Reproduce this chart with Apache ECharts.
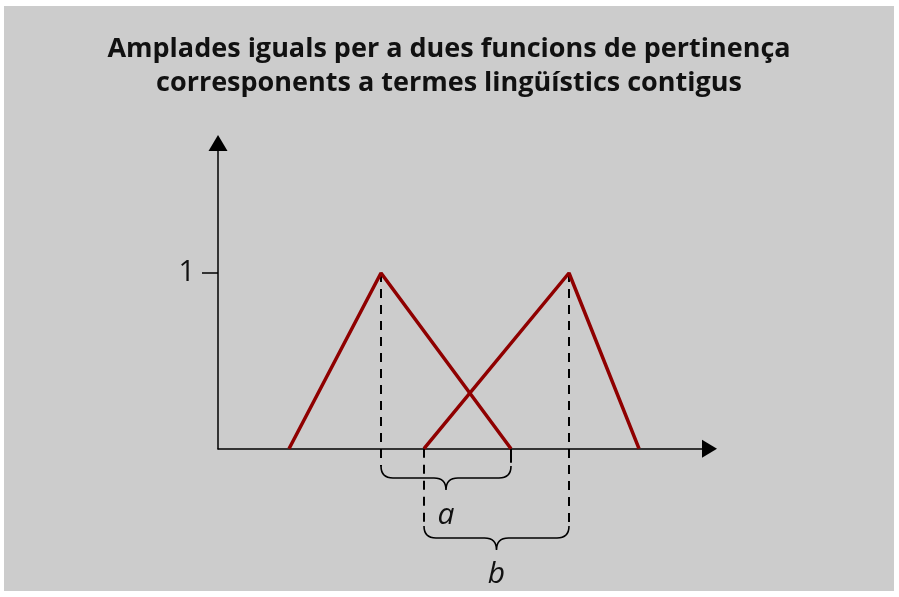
<!DOCTYPE html>
<html>
<head>
<meta charset="utf-8">
<script src="https://cdn.jsdelivr.net/npm/echarts@6/dist/echarts.min.js"></script>
<style>
  html, body { margin: 0; padding: 0; background: #ffffff; }
  #chart { position: absolute; left: 4px; top: 6px; width: 890px; height: 585px; }
</style>
</head>
<body>
<div id="chart"></div>
<script>
// x in units along the axis, y is the membership degree
const triangleA = [[71, 0], [163, 1], [293, 0]];
const triangleB = [[206, 0], [351, 1], [421, 0]];

// guide lines dropped below the axis
const guideX = [163, 206, 351, 293];
const guideTop = [1, 0, 1, 0];
const guideBottom = [-0.1, -0.44, -0.44, -0.08];
const guideDashed = [true, true, true, false];

// braces under the axis
const braceStart = [163, 206];
const braceEnd = [293, 351];
const braceLevel = [-0.167, -0.508];
const braceNames = ['a', 'b'];

const yTicks = [1];

const chart = echarts.init(document.getElementById('chart'));

const guideSeries = guideX.map((x, i) => ({
  type: 'line',
  data: [[x, guideTop[i]], [x, guideBottom[i]]],
  symbol: 'none',
  clip: false,
  silent: true,
  lineStyle: { color: '#000', width: 2, type: guideDashed[i] ? [9, 7] : 'solid' },
  z: 2
}));

chart.setOption({
  backgroundColor: '#cccccc',
  animation: false,
  title: {
    text: 'Amplades iguals per a dues funcions de pertinença\ncorresponents a termes lingüístics contigus',
    left: 'center',
    top: 21,
    textStyle: {
      fontFamily: 'Open Sans',
      fontWeight: 'bold',
      fontSize: 27,
      lineHeight: 34.5,
      color: '#111'
    }
  },
  grid: { left: 214, top: 137, right: 184.5, bottom: 142.3 },
  xAxis: {
    type: 'value',
    min: 0,
    max: 491.5,
    splitLine: { show: false },
    axisTick: { show: false },
    axisLabel: { show: false },
    axisLine: {
      lineStyle: { color: '#000', width: 1.5 },
      symbol: ['none', 'triangle'],
      symbolSize: [18, 15]
    }
  },
  yAxis: {
    type: 'value',
    min: 0,
    max: 1.74,
    splitLine: { show: false },
    axisTick: { show: true, length: 16, customValues: yTicks, lineStyle: { color: '#000', width: 1.5 } },
    axisLabel: {
      customValues: yTicks,
      margin: 23,
      fontFamily: 'Open Sans',
      fontSize: 29,
      color: '#111'
    },
    axisLine: {
      lineStyle: { color: '#000', width: 1.5 },
      symbol: ['none', 'triangle'],
      symbolSize: [19, 16]
    }
  },
  series: [
    ...guideSeries,
    {
      type: 'custom',
      clip: false,
      silent: true,
      data: braceStart.map((s, i) => [s, braceEnd[i], braceLevel[i], braceNames[i]]),
      renderItem: function (params, api) {
        const p1 = api.coord([api.value(0), api.value(2)]);
        const p2 = api.coord([api.value(1), api.value(2)]);
        const y = p1[1];
        const x1 = p1[0], x2 = p2[0], mid = (x1 + x2) / 2;
        const r = 12;
        const d = 'M' + x1 + ' ' + (y - r) +
          ' Q' + x1 + ' ' + y + ' ' + (x1 + r) + ' ' + y +
          ' L' + (mid - r) + ' ' + y +
          ' Q' + mid + ' ' + y + ' ' + mid + ' ' + (y + r) +
          ' Q' + mid + ' ' + y + ' ' + (mid + r) + ' ' + y +
          ' L' + (x2 - r) + ' ' + y +
          ' Q' + x2 + ' ' + y + ' ' + x2 + ' ' + (y - r);
        return {
          type: 'group',
          children: [
            {
              type: 'path',
              shape: { pathData: d },
              style: { fill: 'none', stroke: '#000', lineWidth: 1.6 }
            },
            {
              type: 'text',
              x: mid,
              y: y + r + 25,
              style: {
                text: braceNames[params.dataIndex],
                fontFamily: 'Open Sans',
                fontStyle: 'italic',
                fontSize: 30,
                fill: '#111',
                align: 'center',
                verticalAlign: 'middle'
              }
            }
          ]
        };
      },
      z: 3
    },
    {
      type: 'line',
      data: triangleA,
      symbol: 'none',
      clip: false,
      lineStyle: { color: '#8f0000', width: 3.5 },
      z: 4
    },
    {
      type: 'line',
      data: triangleB,
      symbol: 'none',
      clip: false,
      lineStyle: { color: '#8f0000', width: 3.5 },
      z: 4
    }
  ]
});
</script>
</body>
</html>
